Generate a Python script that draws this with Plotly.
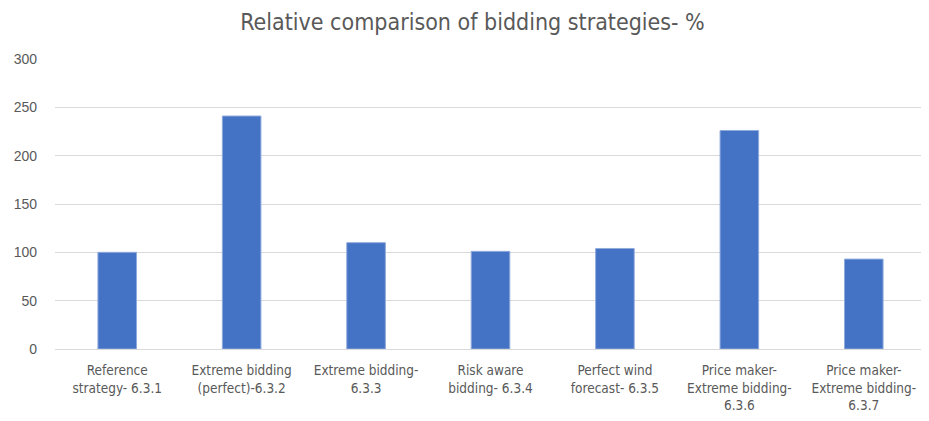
import plotly.graph_objects as go

categories = [
    "Reference<br>strategy- 6.3.1",
    "Extreme bidding<br>(perfect)-6.3.2",
    "Extreme bidding-<br>6.3.3",
    "Risk aware<br>bidding- 6.3.4",
    "Perfect wind<br>forecast- 6.3.5",
    "Price maker-<br>Extreme bidding-<br>6.3.6",
    "Price maker-<br>Extreme bidding-<br>6.3.7",
]
values = [100, 241, 110, 101, 104, 226, 93]
y_ticks = [0, 50, 100, 150, 200, 250, 300]

fig = go.Figure(go.Bar(
    x=categories, y=values,
    marker=dict(color="#4472C4", line=dict(color="#8FAADC", width=1)),
))

font_family = "DejaVu Sans Condensed, Liberation Sans Narrow, Liberation Sans, sans-serif"
fig.update_layout(
    width=929, height=421,
    margin=dict(l=47, r=11, t=51, b=80),
    paper_bgcolor="white", plot_bgcolor="white",
    bargap=0.69,
    title=dict(text="Relative comparison of bidding strategies- %",
               x=0.5, xref="container", xanchor="center", y=0.967, yanchor="middle",
               font=dict(family=font_family, size=23, color="#595959")),
    font=dict(family=font_family, size=13, color="#595959"),
    showlegend=False,
)
fig.update_xaxes(showgrid=False, showline=True, linecolor="#d9d9d9", linewidth=1,
                 ticks="", automargin=False, tickangle=0, ticklabelstandoff=9,
                 tickfont=dict(family=font_family, size=13.5, color="#595959"))
fig.update_yaxes(range=[0, 300], tickvals=y_ticks, showgrid=True, gridcolor="#d9d9d9",
                 gridwidth=1, zeroline=False, showline=False, ticks="",
                 ticklabelstandoff=17, automargin=False,
                 tickfont=dict(family="Liberation Sans, Arial, sans-serif", size=14, color="#595959"))

fig.write_html("out.html")
